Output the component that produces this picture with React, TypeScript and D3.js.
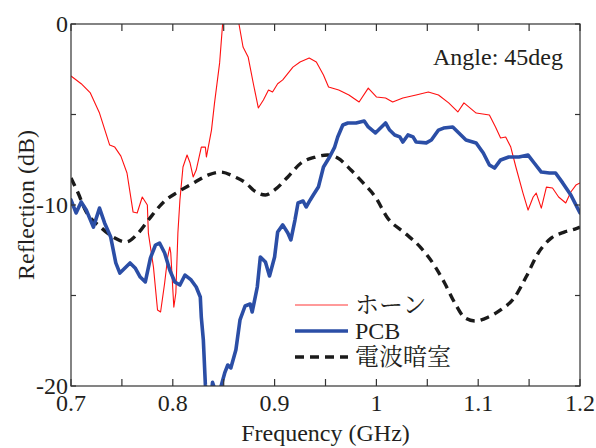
import React from "react";
import * as d3 from "d3";

// ホーン (red)
const hornF = [0.700,0.710,0.719,0.728,0.738,0.743,0.749,0.755,0.761,0.765,0.770,0.775,0.776,0.781,0.785,0.788,0.792,0.795,0.797,0.798,0.801,0.803,0.805,0.807,0.810,0.814,0.817,0.820,0.823,0.828,0.832,0.833,0.838,0.841,0.846,0.849,0.853,0.857,0.861,0.865,0.869,0.874,0.879,0.884,0.889,0.894,0.898,0.903,0.908,0.918,0.925,0.934,0.941,0.948,0.953,0.963,0.973,0.983,0.992,1.000,1.009,1.016,1.026,1.039,1.051,1.061,1.071,1.080,1.086,1.091,1.098,1.111,1.117,1.122,1.127,1.132,1.137,1.144,1.149,1.154,1.157,1.162,1.167,1.173,1.179,1.186,1.191,1.196,1.200];
const hornV = [-2.87,-3.3,-3.81,-4.92,-6.69,-6.80,-7.3,-8.23,-10.39,-10.44,-9.56,-10.0,-11.55,-13.43,-15.80,-15.91,-14.31,-12.87,-12.32,-12.65,-15.64,-14.86,-11.55,-9.72,-7.90,-7.24,-7.68,-8.45,-8.07,-6.80,-6.80,-7.35,-5.86,-4.36,-2.15,0.05,1.2,1.5,1.0,0.0,-1.27,-1.82,-3.26,-4.64,-4.20,-3.65,-3.76,-3.3,-3.09,-2.38,-2.10,-1.88,-2.10,-2.82,-3.48,-3.65,-3.92,-4.31,-3.54,-4.03,-4.09,-4.31,-4.09,-3.92,-3.76,-3.92,-4.36,-4.86,-4.36,-4.59,-4.92,-5.03,-5.69,-6.30,-6.24,-6.80,-7.90,-9.34,-10.28,-9.56,-9.34,-10.17,-9.01,-9.06,-9.56,-9.89,-9.28,-8.90,-8.78];

// PCB (blue)
const pcbF = [0.700,0.705,0.710,0.715,0.722,0.728,0.733,0.739,0.744,0.748,0.753,0.758,0.763,0.768,0.773,0.778,0.783,0.787,0.792,0.797,0.802,0.807,0.812,0.818,0.823,0.827,0.828,0.830,0.832,0.835,0.837,0.839,0.842,0.845,0.851,0.854,0.857,0.862,0.866,0.871,0.876,0.878,0.883,0.886,0.891,0.895,0.900,0.903,0.908,0.913,0.916,0.920,0.923,0.928,0.931,0.935,0.938,0.943,0.948,0.954,0.959,0.962,0.967,0.972,0.980,0.988,0.992,0.999,1.004,1.009,1.013,1.018,1.023,1.026,1.031,1.036,1.039,1.049,1.054,1.061,1.066,1.075,1.081,1.088,1.098,1.105,1.111,1.116,1.122,1.130,1.140,1.149,1.155,1.162,1.170,1.176,1.183,1.191,1.200];
const pcbV = [-9.72,-10.44,-9.83,-10.28,-11.22,-10.17,-10.99,-11.77,-13.20,-13.76,-13.48,-13.20,-13.48,-13.98,-14.25,-12.93,-12.21,-12.10,-12.65,-13.59,-14.25,-14.42,-13.87,-14.14,-14.53,-15.08,-16.19,-17.46,-19.94,-21.5,-21.0,-19.8,-20.3,-20.5,-19.28,-18.84,-19.0,-18.0,-16.35,-15.58,-15.47,-15.91,-14.53,-12.87,-13.15,-13.92,-12.87,-11.49,-11.10,-11.55,-11.93,-10.83,-9.89,-9.78,-10.11,-9.72,-9.45,-9.01,-7.90,-7.35,-6.80,-6.24,-5.58,-5.47,-5.47,-5.36,-5.69,-6.02,-5.75,-5.47,-5.86,-6.13,-6.24,-6.52,-6.13,-6.24,-6.52,-6.57,-6.41,-5.86,-5.75,-5.69,-6.02,-6.41,-6.57,-7.13,-7.79,-7.96,-7.51,-7.35,-7.35,-7.24,-7.68,-8.18,-8.23,-8.23,-8.78,-9.45,-10.44];

// 電波暗室 (black dashed)
const chamberF = [0.700,0.707,0.714,0.729,0.743,0.754,0.766,0.776,0.792,0.805,0.822,0.835,0.847,0.861,0.873,0.879,0.891,0.900,0.913,0.926,0.940,0.952,0.962,0.975,0.987,0.999,1.011,1.028,1.044,1.058,1.067,1.077,1.087,1.097,1.110,1.122,1.136,1.147,1.159,1.172,1.185,1.195,1.200];
const chamberV = [-8.51,-9.34,-10.28,-11.22,-11.82,-12.04,-11.55,-10.83,-9.78,-9.28,-8.73,-8.34,-8.18,-8.45,-8.84,-9.17,-9.45,-9.17,-8.45,-7.68,-7.35,-7.24,-7.40,-8.07,-8.78,-9.56,-10.72,-11.55,-12.38,-13.43,-14.31,-15.41,-16.24,-16.41,-16.19,-15.80,-15.08,-13.98,-12.65,-11.82,-11.49,-11.33,-11.22];

const xMajor = [0.7, 0.8, 0.9, 1.0, 1.1, 1.2];
const xMajorLabels = ["0.7", "0.8", "0.9", "1", "1.1", "1.2"];
const xMinor = [0.75, 0.85, 0.95, 1.05, 1.15];
const yTicks = [0, -5, -10, -15, -20];
const yLabelTicks = [0, -10, -20];
const yLabels = ["0", "-10", "-20"];

const seriesNames = ["ホーン", "PCB", "電波暗室"];
const seriesCJK = [true, false, true];

const L = 71, R = 580, T = 24, B = 386;
const LATIN_F = "Liberation Serif";
const CJK_F = "Noto Serif CJK JP";
const TXT = "#231f20";

export default function App() {
  const x = d3.scaleLinear().domain([0.7, 1.2]).range([L, R]);
  const y = d3.scaleLinear().domain([-20, 0]).range([B, T]);
  const line = d3.line<[number, number]>().x(d => x(d[0])).y(d => y(d[1]));
  const smooth = d3.line<[number, number]>().x(d => x(d[0])).y(d => y(d[1])).curve(d3.curveMonotoneX);
  const zip = (a: number[], b: number[]) => a.map((f, i) => [f, b[i]] as [number, number]);

  const legendRows = [305, 331, 357];
  const legendStyles = [
    { stroke: "#ff2020", width: 1.3, dash: undefined as string | undefined, opacity: 0.6 },
    { stroke: "#2b4ea6", width: 3.6, dash: undefined, opacity: 1 },
    { stroke: "#1a1a1a", width: 3.4, dash: "9,6", opacity: 1 },
  ];

  return (
    <svg width={596} height={448} style={{ position: "absolute", left: 0, top: 0, background: "#fff" }}>
      <style>{`.lat { font-family: "Liberation Serif", serif; } .cjk { font-family: "Noto Serif CJK JP", serif; }`}</style>
      <defs>
        <clipPath id="plot">
          <rect x={L} y={T} width={R - L} height={B - T} />
        </clipPath>
      </defs>
      <g clipPath="url(#plot)" fill="none">
        <path d={line(zip(hornF, hornV)) || ""} stroke="#ff1010" strokeWidth={1.1} strokeLinejoin="round" />
        <path d={smooth(zip(chamberF, chamberV)) || ""} stroke="#1a1a1a" strokeWidth={3.4} strokeDasharray="9,6" />
        <path d={line(zip(pcbF, pcbV)) || ""} stroke="#2b4ea6" strokeWidth={3.6} strokeLinejoin="round" strokeLinecap="round" />
      </g>
      <rect x={L} y={T} width={R - L} height={B - T} fill="none" stroke="#333" strokeWidth={1.2} />
      {xMajor.concat(xMinor).map((t, i) => (
        <g key={"xt" + i} stroke="#333" strokeWidth={1.2}>
          <line x1={x(t)} x2={x(t)} y1={B} y2={B - 7} />
          <line x1={x(t)} x2={x(t)} y1={T} y2={T + 7} />
        </g>
      ))}
      {yTicks.map((t, i) => (
        <g key={"yt" + i} stroke="#333" strokeWidth={1.2}>
          <line x1={L} x2={L + 5} y1={y(t)} y2={y(t)} />
          <line x1={R} x2={R - 5} y1={y(t)} y2={y(t)} />
        </g>
      ))}
      {xMajor.map((t, i) => (
        <text key={"xl" + i} className="lat" x={x(t)} y={411} textAnchor="middle" fontSize={24} fill={TXT} style={{ fontFamily: LATIN_F }}>{xMajorLabels[i]}</text>
      ))}
      {yLabelTicks.map((t, i) => (
        <text key={"yl" + i} className="lat" x={68} y={y(t) + 8} textAnchor="end" fontSize={24} fill={TXT} style={{ fontFamily: LATIN_F }}>{yLabels[i]}</text>
      ))}
      <text className="lat" x={(L + R) / 2} y={441} textAnchor="middle" fontSize={24} fill={TXT} style={{ fontFamily: LATIN_F }}>Frequency (GHz)</text>
      <text className="lat" transform={`translate(34,${(T + B) / 2}) rotate(-90)`} textAnchor="middle" fontSize={24} fill={TXT} style={{ fontFamily: LATIN_F }}>Reflection (dB)</text>
      <text className="lat" x={563} y={65} textAnchor="end" fontSize={24} fill={TXT} style={{ fontFamily: LATIN_F }}>Angle: 45deg</text>
      {seriesNames.map((name, i) => (
        <g key={"lg" + i}>
          <line x1={295} x2={348} y1={legendRows[i]} y2={legendRows[i]} stroke={legendStyles[i].stroke} strokeWidth={legendStyles[i].width} strokeDasharray={legendStyles[i].dash} opacity={legendStyles[i].opacity} />
          <text className={seriesCJK[i] ? "cjk" : "lat"} x={355} y={legendRows[i] + 8} fontSize={24} fill={TXT}
            style={{ fontFamily: seriesCJK[i] ? CJK_F : LATIN_F }}>{name}</text>
        </g>
      ))}
    </svg>
  );
}
